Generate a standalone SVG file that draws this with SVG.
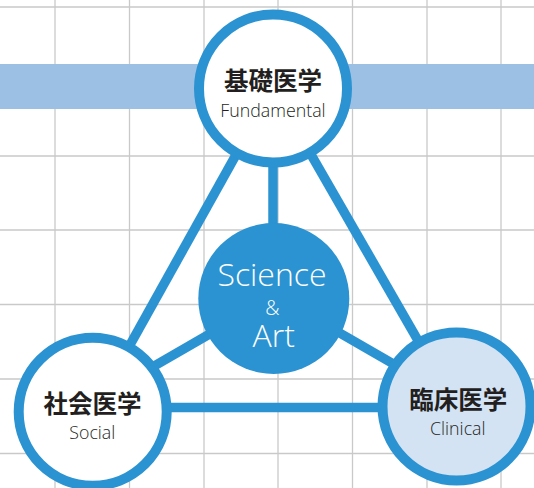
<svg xmlns="http://www.w3.org/2000/svg" width="534" height="488" viewBox="0 0 534 488">
<style>
.grid line{stroke:#c9c9c9;stroke-width:1.3}
.conn line{stroke:#2b93d1;stroke-width:9.5;stroke-linecap:butt}
.ring{stroke:#2b93d1;stroke-width:10}
.ja{font-family:"Noto Sans CJK JP","Noto Sans CJK SC",sans-serif;font-weight:700;font-size:24.5px;fill:#231f20;text-anchor:middle}
.en{font-family:"Open Sans","Noto Sans",sans-serif;font-weight:300;font-size:17.8px;fill:#231f20;text-anchor:middle}
.sa{font-family:"Open Sans","Noto Sans",sans-serif;font-weight:300;fill:#ffffff;text-anchor:middle}
</style>
<rect width="534" height="488" fill="#ffffff"/>
<g class="grid">
<line x1="55" y1="0" x2="55" y2="488"/>
<line x1="129.5" y1="0" x2="129.5" y2="488"/>
<line x1="204" y1="0" x2="204" y2="488"/>
<line x1="278" y1="0" x2="278" y2="488"/>
<line x1="352.5" y1="0" x2="352.5" y2="488"/>
<line x1="427" y1="0" x2="427" y2="488"/>
<line x1="501" y1="0" x2="501" y2="488"/>
<line x1="0" y1="7" x2="534" y2="7"/>
<line x1="0" y1="81.5" x2="534" y2="81.5"/>
<line x1="0" y1="156" x2="534" y2="156"/>
<line x1="0" y1="230" x2="534" y2="230"/>
<line x1="0" y1="304.5" x2="534" y2="304.5"/>
<line x1="0" y1="379" x2="534" y2="379"/>
<line x1="0" y1="453.5" x2="534" y2="453.5"/>
</g>
<rect x="0" y="64" width="534" height="45" fill="#9bc0e4"/>
<g id="connectors" class="conn">
<line x1="273" y1="88.5" x2="92.7" y2="411.7"/>
<line x1="273" y1="88.5" x2="456" y2="406.5"/>
<line x1="92.7" y1="407.5" x2="456" y2="407.5"/>
<line x1="273" y1="88.5" x2="273" y2="298"/>
<line x1="273.8" y1="297" x2="92.7" y2="401.5"/>
<line x1="273.8" y1="295" x2="456" y2="400"/>
</g>
<g id="fundamental">
<circle class="ring" cx="273" cy="88.5" r="74" fill="#ffffff"/>
<text class="ja" x="273" y="89.5">基礎医学</text>
<text class="en" x="273" y="116.7">Fundamental</text>
</g>
<g id="science-art">
<circle cx="273.8" cy="298.5" r="75.5" fill="#2b93d1"/>
<text class="sa" x="272" y="286" font-size="32">Science</text>
<text class="sa" x="272.5" y="314.5" font-size="20">&amp;</text>
<text class="sa" x="273.8" y="347.3" font-size="32">Art</text>
</g>
<g id="social">
<circle class="ring" cx="92.7" cy="411.7" r="74" fill="#ffffff"/>
<text class="ja" x="92.5" y="413">社会医学</text>
<text class="en" x="92.3" y="439">Social</text>
</g>
<g id="clinical">
<circle class="ring" cx="456.5" cy="406.5" r="74" fill="#d4e3f4"/>
<text class="ja" x="458.3" y="409">臨床医学</text>
<text class="en" x="457.8" y="435">Clinical</text>
</g>
</svg>
